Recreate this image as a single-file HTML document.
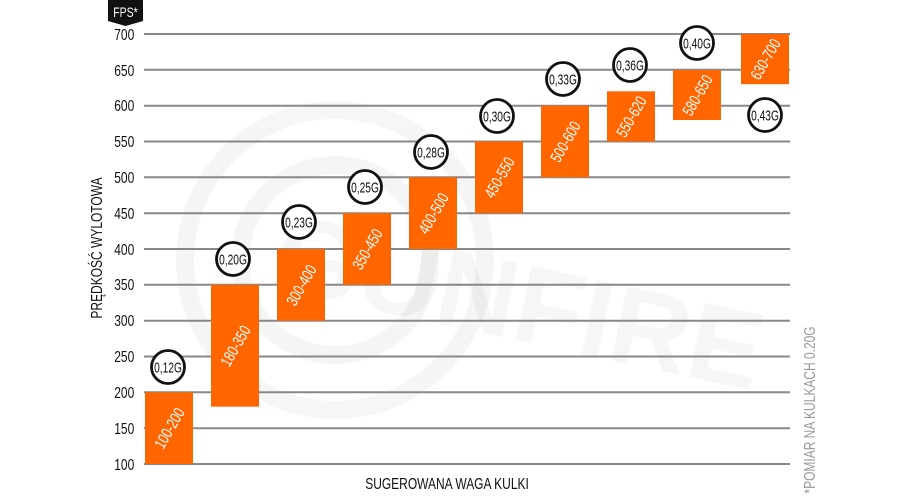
<!DOCTYPE html>
<html><head><meta charset="utf-8"><style>
body{margin:0;background:#fff;}
svg{display:block;font-family:"Liberation Sans",sans-serif;}
</style></head><body>
<svg width="900" height="500" viewBox="0 0 900 500" xmlns="http://www.w3.org/2000/svg">
<g opacity="0.035" fill="none" stroke="#000" stroke-width="18">
<circle cx="335" cy="260" r="150"/>
<circle cx="335" cy="260" r="95"/>
</g>
<text x="520" y="340" font-size="110" font-weight="bold" fill="#000" opacity="0.03" transform="rotate(12 520 300)" text-anchor="middle">GUNFIRE</text>
<g stroke="#888" stroke-width="2">
<line x1="144" x2="790" y1="34" y2="34"/>
<line x1="144" x2="790" y1="69.8" y2="69.8"/>
<line x1="144" x2="790" y1="105.7" y2="105.7"/>
<line x1="144" x2="790" y1="141.5" y2="141.5"/>
<line x1="144" x2="790" y1="177.3" y2="177.3"/>
<line x1="144" x2="790" y1="213.2" y2="213.2"/>
<line x1="144" x2="790" y1="249" y2="249"/>
<line x1="144" x2="790" y1="284.8" y2="284.8"/>
<line x1="144" x2="790" y1="320.7" y2="320.7"/>
<line x1="144" x2="790" y1="356.5" y2="356.5"/>
<line x1="144" x2="790" y1="392.3" y2="392.3"/>
<line x1="144" x2="790" y1="428.2" y2="428.2"/>
<line x1="144" x2="790" y1="464" y2="464"/>
</g>
<g font-size="16" fill="#111" text-anchor="end">
<g transform="scale(0.75,1)">
<text x="179" y="40">700</text>
<text x="179" y="76">650</text>
<text x="179" y="111">600</text>
<text x="179" y="147">550</text>
<text x="179" y="183">500</text>
<text x="179" y="219">450</text>
<text x="179" y="255">400</text>
<text x="179" y="290">350</text>
<text x="179" y="326">300</text>
<text x="179" y="362">250</text>
<text x="179" y="398">200</text>
<text x="179" y="434">150</text>
<text x="179" y="470">100</text>
</g></g>
<path d="M108 0 H143 V21 L125.5 26 L108 21 Z" fill="#111"/>
<text x="125.5" y="17" font-size="14" fill="#fff" text-anchor="middle" transform="translate(125.5 0) scale(0.75,1) translate(-125.5 0)">FPS*</text>
<g fill="#ff6600">
<rect x="145" y="392.3" width="48" height="71.7"/>
<rect x="211" y="284.8" width="48" height="121.9"/>
<rect x="277" y="249" width="48" height="71.7"/>
<rect x="343" y="213.2" width="48" height="71.6"/>
<rect x="409" y="177.3" width="48" height="71.7"/>
<rect x="475" y="141.5" width="48" height="71.7"/>
<rect x="541" y="105.7" width="48" height="71.6"/>
<rect x="607" y="91.3" width="48" height="50.2"/>
<rect x="673" y="70" width="48" height="50"/>
<rect x="741" y="34" width="48" height="50.2"/>
</g>
<g fill="#fff" font-size="16" text-anchor="middle">
<g transform="translate(169 428) rotate(-60) scale(0.75,1)"><text y="6">100-200</text></g>
<g transform="translate(235 345.7) rotate(-60) scale(0.75,1)"><text y="6">180-350</text></g>
<g transform="translate(301 285) rotate(-60) scale(0.75,1)"><text y="6">300-400</text></g>
<g transform="translate(367 249) rotate(-60) scale(0.75,1)"><text y="6">350-450</text></g>
<g transform="translate(433 213.2) rotate(-60) scale(0.75,1)"><text y="6">400-500</text></g>
<g transform="translate(499 177.3) rotate(-60) scale(0.75,1)"><text y="6">450-550</text></g>
<g transform="translate(565 141.5) rotate(-60) scale(0.75,1)"><text y="6">500-600</text></g>
<g transform="translate(631 116.4) rotate(-60) scale(0.75,1)"><text y="6">550-620</text></g>
<g transform="translate(697 95) rotate(-60) scale(0.75,1)"><text y="6">580-650</text></g>
<g transform="translate(765 59) rotate(-60) scale(0.75,1)"><text y="6">630-700</text></g>
</g>
<g fill="#fff" stroke="#111" stroke-width="2.8">
<circle cx="168" cy="367" r="16.5"/>
<circle cx="233" cy="259" r="16.5"/>
<circle cx="299" cy="222" r="16.5"/>
<circle cx="365" cy="187" r="16.5"/>
<circle cx="431" cy="152" r="16.5"/>
<circle cx="497" cy="116" r="16.5"/>
<circle cx="563" cy="79" r="16.5"/>
<circle cx="630" cy="65" r="16.5"/>
<circle cx="697" cy="43" r="16.5"/>
<circle cx="765" cy="115" r="16.5"/>
</g>
<g fill="#111" font-size="15" text-anchor="middle">
<g transform="translate(168 372.5) scale(0.68,1)"><text>0,12G</text></g>
<g transform="translate(233 264.5) scale(0.68,1)"><text>0,20G</text></g>
<g transform="translate(299 227.5) scale(0.68,1)"><text>0,23G</text></g>
<g transform="translate(365 192.5) scale(0.68,1)"><text>0,25G</text></g>
<g transform="translate(431 157.5) scale(0.68,1)"><text>0,28G</text></g>
<g transform="translate(497 121.5) scale(0.68,1)"><text>0,30G</text></g>
<g transform="translate(563 84.5) scale(0.68,1)"><text>0,33G</text></g>
<g transform="translate(630 70.5) scale(0.68,1)"><text>0,36G</text></g>
<g transform="translate(697 48.5) scale(0.68,1)"><text>0,40G</text></g>
<g transform="translate(765 120.5) scale(0.68,1)"><text>0,43G</text></g>
</g>
<g transform="translate(102 248) rotate(-90) scale(0.75,1)"><text font-size="16" fill="#111" text-anchor="middle">PRĘDKOŚĆ WYLOTOWA</text></g>
<g transform="translate(447 489) scale(0.75,1)"><text font-size="16" fill="#111" text-anchor="middle">SUGEROWANA WAGA KULKI</text></g>
<g transform="translate(815 410) rotate(-90) scale(0.75,1)"><text font-size="16" fill="#999" text-anchor="middle">*POMIAR NA KULKACH 0.20G</text></g>
</svg>
</body></html>
